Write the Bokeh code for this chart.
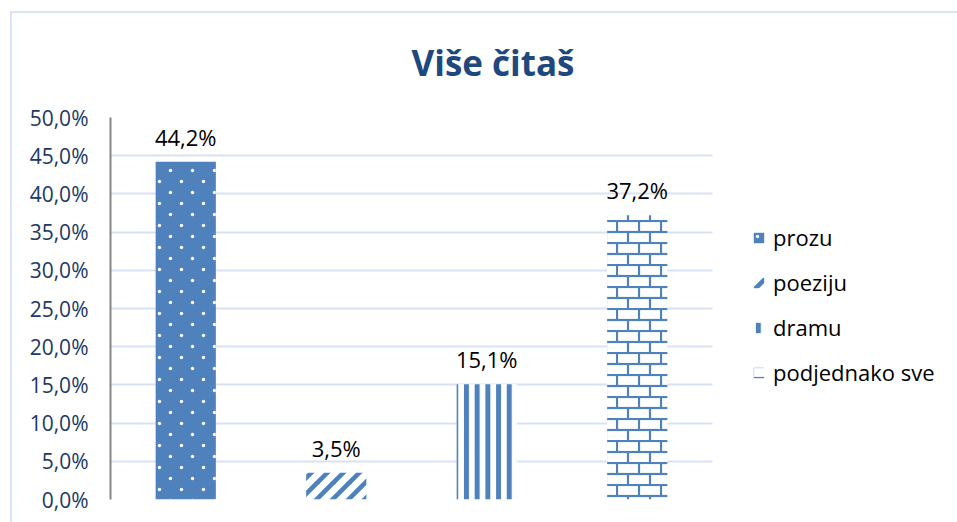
import base64
from bokeh.plotting import figure
from bokeh.models import (ColumnDataSource, Range1d, CustomJSTickFormatter,
                          FixedTicker, Title, Legend, LegendItem, ImageURLTexture)
from bokeh.core.properties import value
from bokeh.embed import file_html
from bokeh.resources import INLINE

# ---- data ----
categories = ["prozu", "poeziju", "dramu", "podjednako sve"]
values = [44.2, 3.5, 15.1, 37.2]
title_text = "Više čitaš"
y_ticks = [0, 5, 10, 15, 20, 25, 30, 35, 40, 45, 50]

BLUE = "#4f81bd"
FONT = "Open Sans"
BORDER = "#dae3f3"


def svg_uri(svg):
    return "data:image/svg+xml;base64," + base64.b64encode(svg.encode()).decode()


dots_svg = ("<svg xmlns='http://www.w3.org/2000/svg' width='22' height='22'>"
            "<circle cx='5.5' cy='5.5' r='1.7' fill='white'/>"
            "<circle cx='16.5' cy='16.5' r='1.7' fill='white'/></svg>")
diag_svg = ("<svg xmlns='http://www.w3.org/2000/svg' width='16' height='16'>"
            "<g stroke='#4f81bd' stroke-width='4.6'>"
            "<line x1='-4' y1='20' x2='20' y2='-4'/>"
            "<line x1='-8' y1='8' x2='8' y2='-8'/>"
            "<line x1='8' y1='24' x2='24' y2='8'/></g></svg>")
brick_svg = ("<svg xmlns='http://www.w3.org/2000/svg' width='22' height='22'>"
             "<g stroke='#4f81bd' stroke-width='2.2'>"
             "<line x1='0' y1='1' x2='22' y2='1'/><line x1='0' y1='12' x2='22' y2='12'/>"
             "<line x1='1' y1='1' x2='1' y2='12'/><line x1='12' y1='12' x2='12' y2='23'/>"
             "</g></svg>")

hatch_extra = {
    "dots": ImageURLTexture(url=svg_uri(dots_svg), repetition="repeat"),
    "diag": ImageURLTexture(url=svg_uri(diag_svg), repetition="repeat"),
    "brick": ImageURLTexture(url=svg_uri(brick_svg), repetition="repeat"),
}

n = len(categories)
src = ColumnDataSource(dict(
    cat=categories,
    pos=[i + 0.5 for i in range(n)],   # category slot centres
    val=values,
    lab=[f"{v:.1f}".replace(".", ",") + "%" for v in values],
    fill=[BLUE, "white", "white", "white"],
    hatch=["dots", "diag", "vertical_line", "brick"],
    hcolor=["white", BLUE, BLUE, BLUE],
    hscale=[12, 12, 10.7, 12],
    hweight=[1, 1, 5, 1],
))

# plot frame spans to the right edge so the legend can live inside it;
# category slots stay 150.5 px wide (4 slots over 602 px)
p = figure(width=957, height=522, x_range=Range1d(0, n * 847 / 602), y_range=Range1d(0, 50),
           output_backend="svg", toolbar_location=None, title=None,
           min_border_left=110, min_border_right=0, min_border_top=117, min_border_bottom=23)
p.outline_line_color = None
p.background_fill_color = "white"
p.border_fill_alpha = 0
p.styles = {
    "background-color": "white",
    "background-image": f"linear-gradient({BORDER}, {BORDER}), linear-gradient({BORDER}, {BORDER})",
    "background-size": "100% 2px, 2px 100%",
    "background-position": "10px 11px, 10px 11px",
    "background-repeat": "no-repeat",
}

r = p.vbar(x="pos", top="val", width=0.4, source=src, fill_color="fill", line_color=None,
           hatch_pattern="hatch", hatch_color="hcolor", hatch_scale="hscale",
           hatch_weight="hweight", hatch_extra=hatch_extra)

p.text(x="pos", y="val", text="lab", source=src, text_align="center", text_baseline="middle",
       y_offset=-25, text_font=value(FONT), text_font_size="22px", text_color="black")

p.xaxis.visible = False
p.xgrid.grid_line_color = None
p.ygrid.grid_line_color = "#d9e2f3"
p.ygrid.grid_line_width = 2
p.ygrid.cross_bounds = (0, n)

ax = p.yaxis[0]
ax.ticker = FixedTicker(ticks=y_ticks)
ax.formatter = CustomJSTickFormatter(code="return tick.toFixed(1).replace('.', ',') + '%';")
ax.major_tick_in = 0
ax.major_tick_out = 0
ax.minor_tick_in = 0
ax.minor_tick_out = 0
ax.axis_line_color = "#868686"
ax.axis_line_width = 2
ax.major_label_standoff = 22
ax.major_label_text_font = FONT
ax.major_label_text_font_size = "21px"
ax.major_label_text_color = "#203864"

p.add_layout(Title(text=title_text, align="left", offset=301, vertical_align="top",
                   standoff=60, text_font=FONT, text_font_size="35px",
                   text_font_style="bold", text_color="#1f497d"), "above")

legend = Legend(items=[LegendItem(label=c, renderers=[r], index=i) for i, c in enumerate(categories)],
                location=(642, 112), orientation="vertical",
                glyph_width=13, glyph_height=13, label_height=20, spacing=15,
                label_standoff=8, padding=0, margin=0,
                border_line_alpha=0, background_fill_alpha=0,
                label_text_font=FONT, label_text_font_size="22px", label_text_color="black")
p.add_layout(legend)

open("out.html", "w").write(file_html(p, INLINE))
